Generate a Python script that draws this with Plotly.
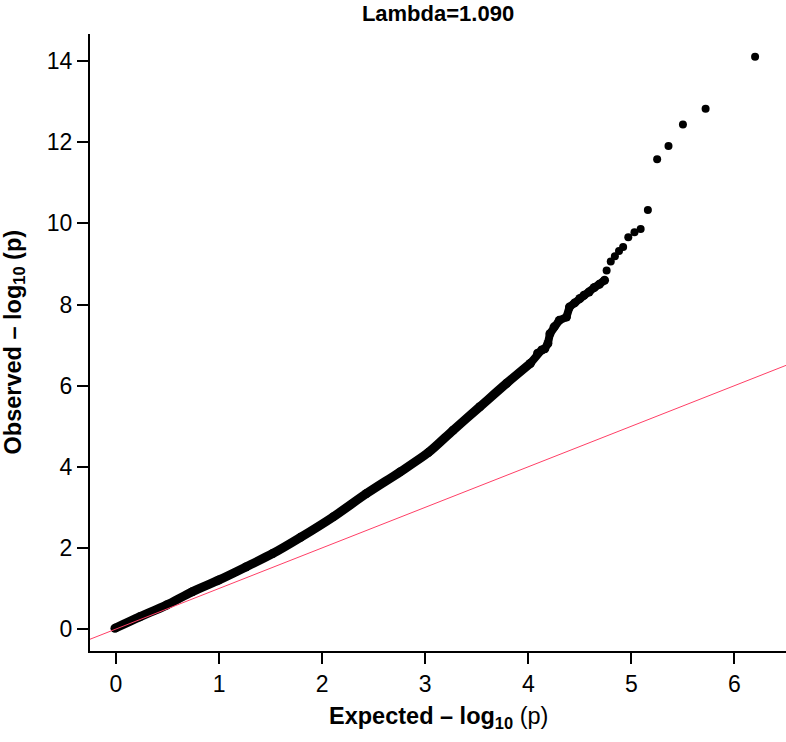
import plotly.graph_objects as go

# Dense, smooth part of the QQ curve (expected, observed)
smooth_expected = [-0.01, 0.23, 0.49, 0.74, 1.00, 1.26, 1.52, 1.79, 2.11, 2.43, 2.76,
                   3.03, 3.27, 3.53, 3.79, 4.02]
smooth_observed = [0.02, 0.30, 0.59, 0.92, 1.21, 1.53, 1.86, 2.26, 2.77, 3.34, 3.88,
                   4.35, 4.90, 5.48, 6.06, 6.55]

# Dense but jagged part of the curve
jagged_expected = [4.02, 4.09, 4.13, 4.16, 4.19, 4.21, 4.25, 4.30, 4.37, 4.40, 4.45,
                   4.50, 4.54, 4.59, 4.64, 4.69, 4.74]
jagged_observed = [6.55, 6.80, 6.88, 6.91, 7.04, 7.28, 7.45, 7.61, 7.69, 7.94, 8.04,
                   8.15, 8.23, 8.31, 8.42, 8.50, 8.60]

# Sparse tail points
tail_expected = [4.76, 4.80, 4.84, 4.88, 4.92, 4.97, 5.03, 5.09, 5.16, 5.25, 5.36, 5.50, 5.72, 6.20]
tail_observed = [8.84, 9.06, 9.19, 9.32, 9.42, 9.66, 9.78, 9.86, 10.33, 11.58, 11.91, 12.44, 12.83, 14.11]

# Null line y = x
null_line = [-0.5, 7.0]

x_ticks = [0, 1, 2, 3, 4, 5, 6]
y_ticks = [0, 2, 4, 6, 8, 10, 12, 14]

title_text = "Lambda=1.090"
font_main = "Liberation Sans, Arial, Helvetica, sans-serif"

fig = go.Figure()

fig.add_trace(go.Scatter(
    x=smooth_expected, y=smooth_observed, mode="lines+markers",
    line=dict(color="black", width=9, shape="spline", smoothing=0.8),
    marker=dict(color="black", size=9),
    showlegend=False, hoverinfo="skip"))

fig.add_trace(go.Scatter(
    x=jagged_expected, y=jagged_observed, mode="lines+markers",
    line=dict(color="black", width=8),
    marker=dict(color="black", size=9),
    showlegend=False, hoverinfo="skip"))

fig.add_trace(go.Scatter(
    x=tail_expected, y=tail_observed, mode="markers",
    marker=dict(color="black", size=8),
    showlegend=False, cliponaxis=False))

fig.add_trace(go.Scatter(
    x=null_line, y=null_line, mode="lines",
    line=dict(color="#ff3f66", width=1),
    showlegend=False, hoverinfo="skip"))

fig.update_layout(
    width=786, height=742,
    margin=dict(l=90, r=0, t=34, b=91),
    paper_bgcolor="white", plot_bgcolor="white",
    font=dict(family=font_main, color="black", size=23),
    title=dict(text="<b>" + title_text + "</b>", x=0.5, xref="paper",
               y=1 - 13 / 742, yref="container", xanchor="center", yanchor="middle",
               font=dict(family=font_main, size=22)),
)

fig.update_xaxes(
    range=[-0.252, 6.5], tickvals=x_ticks, ticktext=[str(v) for v in x_ticks],
    showgrid=False, zeroline=False, showline=True, linecolor="black", linewidth=2,
    ticks="outside", ticklen=11, tickwidth=2, tickcolor="black",
    tickfont=dict(size=23))

fig.update_yaxes(
    range=[-0.542, 14.67], tickvals=y_ticks, ticktext=[str(v) for v in y_ticks],
    showgrid=False, zeroline=False, showline=True, linecolor="black", linewidth=2,
    ticks="outside", ticklen=11, tickwidth=2, tickcolor="black",
    tickfont=dict(size=23))

fig.add_annotation(
    text="<b>Expected – log<sub>10</sub></b> (p)", xref="paper", yref="paper",
    x=0.5, y=-(718 - 651) / 617, xanchor="center", yanchor="middle",
    showarrow=False, font=dict(size=23.5))

fig.add_annotation(
    text="<b>Observed – log<sub>10</sub> (p)</b>", xref="paper", yref="paper",
    x=(14 - 90) / 696, y=0.5, xanchor="center", yanchor="middle", textangle=-90,
    showarrow=False, font=dict(size=23.5))

fig.write_html("out.html", config={"displayModeBar": False},
               post_script="document.body.style.margin='0';")
